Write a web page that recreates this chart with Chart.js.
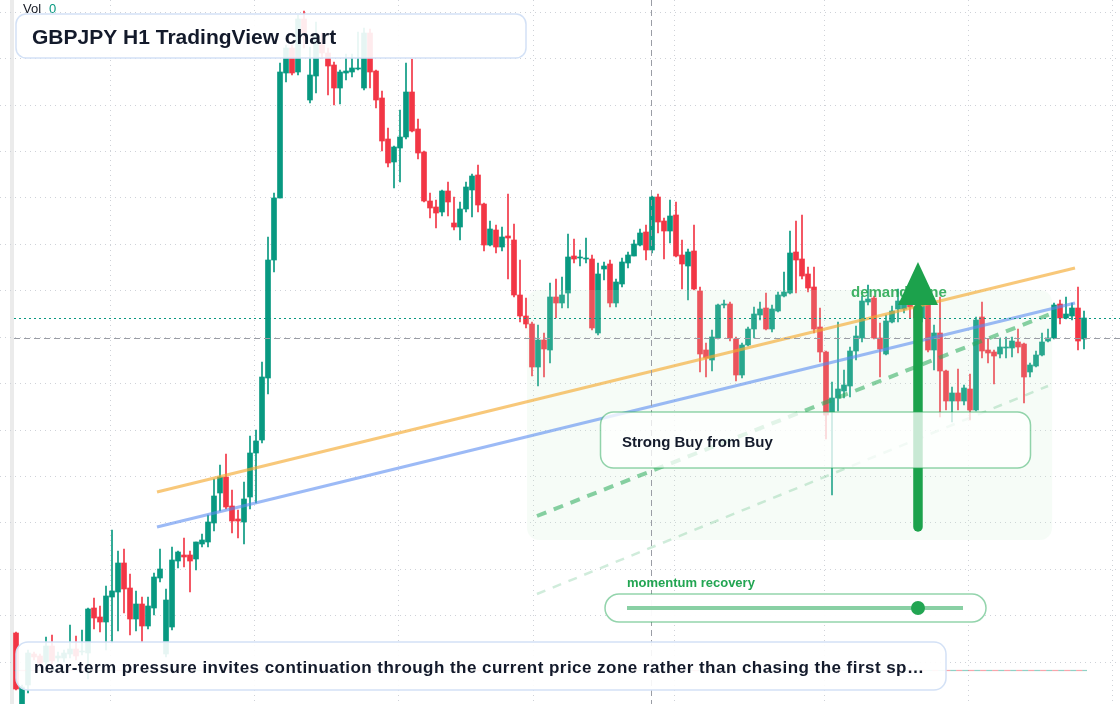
<!DOCTYPE html>
<html><head><meta charset="utf-8">
<script src="https://cdn.jsdelivr.net/npm/chart.js@4.4.1/dist/chart.umd.min.js"></script>
<style>html,body{margin:0;padding:0;background:#fff;overflow:hidden}canvas{display:block}</style>
</head><body>
<canvas id="c" width="1120" height="704"></canvas>
<script>
// ---- GBPJPY H1 candles (price values) ----
const openP = [197.67,196.88,197.15,197.46,197.44,197.38,197.54,197.42,197.42,197.46,
197.51,197.48,197.47,197.92,197.83,197.78,198.03,198.08,198.37,198.12,
197.81,197.96,197.74,197.92,198.22,197.46,197.73,198.39,198.45,198.45,
198.41,198.56,198.58,198.77,199.07,199.23,198.94,198.81,198.78,199.03,
199.47,199.60,200.22,201.40,202.02,203.27,203.52,203.28,203.81,203.00,
203.24,203.55,203.47,203.35,203.12,203.27,203.28,203.31,203.12,203.67,
203.29,203.02,202.61,202.38,202.52,202.63,203.08,202.71,202.48,201.99,
201.93,201.88,202.09,201.77,201.73,201.91,202.10,202.25,201.96,201.55,
201.70,201.53,201.64,201.60,201.05,200.84,200.76,200.33,200.60,200.50,
201.03,200.97,201.07,201.44,201.42,201.41,201.41,200.67,201.31,201.36,
200.97,201.16,201.37,201.44,201.55,201.68,201.50,202.03,201.79,201.69,
201.85,201.45,201.34,201.49,201.09,200.50,200.40,200.62,200.95,200.96,
200.61,200.25,200.55,200.71,200.85,200.92,200.71,200.89,201.04,201.07,
201.48,201.41,201.26,201.13,200.73,200.48,199.88,200.02,200.09,200.14,
200.49,200.62,200.98,201.02,200.62,200.46,200.78,200.91,200.91,200.96,
200.93,200.82,200.95,200.50,200.67,200.29,199.99,200.07,199.99,200.11,
199.90,200.83,200.50,200.48,200.46,200.52,200.52,200.58,200.56,200.28,
200.34,200.45,200.59,200.62,200.96,200.82,200.84,200.92,200.61];
const highP = [197.68,197.15,197.50,197.48,197.46,197.63,197.65,197.48,197.50,197.75,
197.64,197.70,197.92,198.02,197.94,198.14,198.70,198.49,198.51,198.26,
198.09,198.03,198.03,198.27,198.51,198.11,198.53,198.49,198.62,198.49,
198.58,198.66,198.85,199.21,199.35,199.46,199.10,198.90,199.18,199.64,
199.70,200.38,201.63,202.07,203.37,203.55,203.55,203.85,203.89,203.53,
203.78,203.67,203.52,203.38,203.30,203.46,203.46,203.68,203.72,203.71,
203.30,203.09,202.72,202.54,202.90,203.37,203.41,202.81,202.49,202.07,
202.00,202.10,202.18,202.03,201.98,202.18,202.26,202.35,201.97,201.79,
201.75,201.73,202.06,201.76,201.40,201.02,200.78,200.75,200.67,201.17,
201.21,201.23,201.66,201.61,201.50,201.62,201.45,201.37,201.38,201.40,
201.21,201.42,201.48,201.60,201.71,201.75,202.04,202.06,201.82,202.00,
201.98,201.60,201.51,201.75,201.13,200.57,200.70,200.96,201.00,200.98,
200.63,200.57,200.73,200.93,200.98,201.07,200.95,201.08,201.28,201.69,
201.79,201.85,201.33,201.33,200.92,200.49,200.18,200.78,200.30,200.53,
200.74,201.04,201.15,201.04,200.77,200.85,200.94,201.11,201.02,201.04,
201.00,201.00,200.97,200.75,201.03,200.30,200.13,200.31,200.15,200.26,
200.83,200.98,200.61,200.50,200.62,200.63,200.63,200.71,200.57,200.37,
200.49,200.67,200.71,200.97,201.00,201.03,200.97,201.13,200.89];
const lowP = [197.10,196.84,197.07,197.40,197.34,197.35,197.36,197.38,197.38,197.42,
197.40,197.45,197.21,197.71,197.68,197.50,197.57,197.69,197.87,197.65,
197.69,197.58,197.71,197.85,198.18,197.43,197.70,198.32,198.33,198.08,
198.30,198.53,198.53,198.69,198.89,198.91,198.67,198.62,198.56,198.91,
198.97,199.57,200.06,201.28,202.02,203.18,203.25,203.25,203.52,202.97,
203.07,203.42,203.05,202.95,202.96,203.20,203.23,203.30,203.10,203.12,
202.92,202.49,202.33,202.12,202.18,202.61,202.68,202.41,201.98,201.82,
201.72,201.84,201.84,201.70,201.60,201.88,201.83,201.88,201.49,201.54,
201.47,201.49,201.21,201.03,200.78,200.72,200.24,200.14,200.23,200.37,
200.82,200.92,200.92,201.37,201.34,201.37,200.70,200.65,201.20,200.93,
200.93,201.13,201.32,201.44,201.54,201.40,201.47,201.67,201.41,201.57,
201.43,201.11,201.00,201.10,200.28,200.23,200.29,200.61,200.92,200.59,
200.19,200.22,200.54,200.62,200.80,200.70,200.68,200.88,201.03,201.06,
201.07,201.21,201.08,200.67,200.38,199.61,199.05,199.89,200.02,200.03,
200.40,200.58,200.95,200.61,200.23,200.45,200.77,200.78,200.87,200.82,
200.75,200.78,200.48,200.30,199.83,199.90,199.78,199.90,199.95,199.80,
199.89,200.42,200.37,200.16,200.42,200.42,200.43,200.47,199.97,200.23,
200.33,200.44,200.58,200.61,200.76,200.81,200.80,200.50,200.51];
const closeP = [197.11,197.13,197.47,197.43,197.37,197.54,197.39,197.44,197.47,197.51,
197.44,197.49,197.91,197.82,197.78,198.04,198.09,198.37,198.11,197.81,
197.96,197.74,197.94,198.23,198.31,198.00,198.40,198.48,198.43,198.39,
198.58,198.60,198.78,199.04,199.23,198.93,198.79,198.79,199.01,199.47,
199.59,200.23,201.40,202.02,203.28,203.52,203.27,203.81,203.67,203.25,
203.65,203.47,203.34,203.12,203.28,203.29,203.32,203.32,203.67,203.28,
203.00,202.59,202.37,202.53,202.63,203.08,202.69,202.47,201.99,201.92,
201.87,202.09,201.98,201.73,201.91,202.13,202.24,201.95,201.55,201.71,
201.53,201.63,201.62,201.05,200.84,200.76,200.33,200.60,200.51,201.03,
200.97,201.05,201.43,201.41,201.43,201.42,200.72,201.26,201.34,200.97,
201.18,201.38,201.45,201.56,201.67,201.50,202.03,201.78,201.69,201.84,
201.44,201.36,201.48,201.11,200.46,200.42,200.63,200.95,200.96,200.62,
200.25,200.55,200.71,200.86,200.91,200.71,200.91,201.05,201.08,201.47,
201.40,201.24,201.12,200.71,200.48,199.85,200.02,200.11,200.15,200.49,
200.64,200.99,201.01,200.62,200.51,200.79,200.89,200.99,200.96,200.93,
200.82,200.95,200.50,200.67,200.29,199.99,200.07,199.99,200.12,199.90,
200.80,200.49,200.47,200.44,200.53,200.53,200.59,200.53,200.23,200.35,
200.45,200.58,200.62,200.95,200.82,200.86,200.92,200.59,200.82];

// grid levels (price) and time grid (bar index)
const priceGrid = [203.876,203.412,202.948,202.484,202.020,201.556,201.092,200.628,200.164,199.700,199.236,198.772,198.308,197.844,197.380];
const timeGrid = [3.83,27.83,51.83,75.83,96.83,122.83,146.83,170.83];

// drawings, in (bar index, price)
const orangeTrend = [[23.5,199.08],[176.5,201.32]];
const blueTrend = [[23.5,198.73],[176.5,200.97]];
const greenDash = [[86.83,198.84],[172.8,200.87]];
const greenDashLight = [[86.83,198.06],[172.0,200.14]];
const demandZone = [85.17,172.67,201.10,198.60]; // x0, x1, top, bottom
const crosshair = [105.83,200.62];               // bar index, price
const arrowPts = [150.33,201.38,200.95,198.69];  // bar index, tip, head base, tail
const volLine = [-0.3,178.5,197.30];

const UP = '#089981', DOWN = '#f23645';
const idx = openP.map((_, i) => i);
const upAt = i => closeP[i] >= openP[i];

function rr(ctx, x, y, w, h, r) {
  ctx.beginPath();
  ctx.moveTo(x + r, y);
  ctx.arcTo(x + w, y, x + w, y + h, r);
  ctx.arcTo(x + w, y + h, x, y + h, r);
  ctx.arcTo(x, y + h, x, y, r);
  ctx.arcTo(x, y, x + w, y, r);
  ctx.closePath();
}
const FONT = '"Liberation Sans", Arial, sans-serif';

const overlay = {
  id: 'overlay',
  beforeDraw(chart) {
    const ctx = chart.ctx;
    ctx.save();
    ctx.fillStyle = '#ffffff';
    ctx.fillRect(0, 0, chart.width, chart.height);
    ctx.fillStyle = '#ebebeb';
    ctx.fillRect(10, 0, 4, chart.height);
    ctx.restore();
  },
  afterDatasetsDraw(chart) {
    const ctx = chart.ctx, xs = chart.scales.x, ys = chart.scales.y;
    const X = v => xs.getPixelForValue(v), Y = v => ys.getPixelForValue(v);
    const W = chart.width, H = chart.height;
    ctx.save();

    // demand zone shading
    const zx0 = X(demandZone[0]), zx1 = X(demandZone[1]), zy0 = Y(demandZone[2]), zy1 = Y(demandZone[3]);
    rr(ctx, zx0, zy0, zx1 - zx0, zy1 - zy0, 12);
    ctx.fillStyle = 'rgba(200,238,210,0.17)';
    ctx.fill();

    const seg = (pts, color, width, dash) => {
      ctx.beginPath();
      ctx.setLineDash(dash || []);
      ctx.strokeStyle = color; ctx.lineWidth = width; ctx.lineCap = 'butt';
      ctx.moveTo(X(pts[0][0]), Y(pts[0][1]));
      ctx.lineTo(X(pts[1][0]), Y(pts[1][1]));
      ctx.stroke();
    };
    seg(greenDashLight, 'rgba(40,170,90,0.22)', 2.5, [9, 8]);
    seg(greenDash, 'rgba(40,170,90,0.55)', 4, [10, 8]);
    seg(orangeTrend, 'rgba(245,170,50,0.65)', 3);
    seg(blueTrend, 'rgba(90,140,240,0.6)', 3);

    // last price line (teal dotted)
    const lastY = Y(closeP[closeP.length - 1]);
    ctx.setLineDash([2, 3]); ctx.lineWidth = 1; ctx.strokeStyle = UP;
    ctx.beginPath(); ctx.moveTo(14, Math.round(lastY) + 0.5); ctx.lineTo(W, Math.round(lastY) + 0.5); ctx.stroke();

    // crosshair
    ctx.setLineDash([6, 4]); ctx.strokeStyle = '#9a9da5'; ctx.lineWidth = 1;
    const cy = Math.round(Y(crosshair[1])) + 0.5, cx = Math.round(X(crosshair[0])) + 0.5;
    ctx.beginPath(); ctx.moveTo(14, cy); ctx.lineTo(W, cy); ctx.stroke();
    ctx.beginPath(); ctx.moveTo(cx, 0); ctx.lineTo(cx, H); ctx.stroke();

    // volume-ish dashed line at bottom
    const vy = Math.round(Y(volLine[2])) + 0.5;
    ctx.lineWidth = 1.2;
    ctx.setLineDash([6, 6]); ctx.strokeStyle = 'rgba(8,153,129,0.45)';
    ctx.beginPath(); ctx.moveTo(X(volLine[0]), vy); ctx.lineTo(X(volLine[1]), vy); ctx.stroke();
    ctx.lineDashOffset = 6; ctx.strokeStyle = 'rgba(242,54,69,0.45)';
    ctx.beginPath(); ctx.moveTo(X(volLine[0]), vy); ctx.lineTo(X(volLine[1]), vy); ctx.stroke();
    ctx.lineDashOffset = 0;
    ctx.setLineDash([]);

    // demand zone label
    ctx.fillStyle = 'rgba(30,165,75,0.85)';
    ctx.font = 'bold 15px ' + FONT;
    ctx.textBaseline = 'alphabetic';
    ctx.fillText('demand zone', 851, 297);

    // arrow
    const ax = X(arrowPts[0]), tipY = Y(arrowPts[1]), baseY = Y(arrowPts[2]), tailY = Y(arrowPts[3]);
    ctx.strokeStyle = '#1ca24c'; ctx.lineWidth = 9.5; ctx.lineCap = 'round';
    ctx.beginPath(); ctx.moveTo(ax, tailY - 4); ctx.lineTo(ax, baseY + 4); ctx.stroke();
    ctx.fillStyle = '#1ca24c';
    ctx.beginPath(); ctx.moveTo(ax, tipY); ctx.lineTo(ax + 20, baseY); ctx.lineTo(ax - 20, baseY); ctx.closePath(); ctx.fill();
    ctx.lineCap = 'butt';

    // Strong Buy box
    rr(ctx, 600.5, 412, 430, 56, 13);
    ctx.fillStyle = 'rgba(255,255,255,0.76)'; ctx.fill();
    ctx.strokeStyle = 'rgba(40,170,90,0.5)'; ctx.lineWidth = 1.5; ctx.stroke();
    ctx.fillStyle = '#141b2b';
    ctx.font = 'bold 15px ' + FONT;
    ctx.fillText('Strong Buy from Buy', 622, 447);

    // momentum slider
    ctx.fillStyle = '#22a552';
    ctx.font = 'bold 13px ' + FONT;
    ctx.fillText('momentum recovery', 627, 587);
    rr(ctx, 605, 594, 381, 28, 14);
    ctx.fillStyle = 'rgba(255,255,255,0.95)'; ctx.fill();
    ctx.strokeStyle = 'rgba(40,170,90,0.5)'; ctx.lineWidth = 1.5; ctx.stroke();
    ctx.strokeStyle = 'rgba(40,170,90,0.55)'; ctx.lineWidth = 4;
    ctx.beginPath(); ctx.moveTo(627, 608); ctx.lineTo(963, 608); ctx.stroke();
    ctx.fillStyle = '#22a552';
    ctx.beginPath(); ctx.arc(918, 608, 7, 0, Math.PI * 2); ctx.fill();

    // title box
    rr(ctx, 16, 14, 510, 44, 10);
    ctx.fillStyle = 'rgba(255,255,255,0.9)'; ctx.fill();
    ctx.strokeStyle = '#d3e1f6'; ctx.lineWidth = 1.5; ctx.stroke();
    ctx.fillStyle = '#131a2b';
    ctx.font = 'bold 21px ' + FONT;
    ctx.fillText('GBPJPY H1 TradingView chart', 32, 44);

    // bottom note box
    rr(ctx, 16, 642, 930, 48, 12);
    ctx.fillStyle = 'rgba(255,255,255,0.9)'; ctx.fill();
    ctx.strokeStyle = '#d3e1f6'; ctx.lineWidth = 1.5; ctx.stroke();
    ctx.fillStyle = '#131a2b';
    ctx.font = 'bold 17px ' + FONT;
    try { ctx.letterSpacing = '0.46px'; } catch (e) {}
    ctx.fillText('near-term pressure invites continuation through the current price zone rather than chasing the first sp\u2026', 34, 673);
    try { ctx.letterSpacing = '0px'; } catch (e) {}

    // Vol legend
    ctx.font = '13px ' + FONT;
    ctx.fillStyle = '#131722';
    ctx.fillText('Vol', 23, 13);
    ctx.fillStyle = UP;
    ctx.fillText('0', 49, 13);

    ctx.restore();
  }
};

const gridCommon = { color: '#cfd2d8', lineWidth: 1, drawTicks: false };
new Chart(document.getElementById('c'), {
  type: 'bar',
  data: {
    datasets: [
      {
        label: 'body',
        data: idx.map(i => ({ x: i, y: [openP[i], closeP[i]] })),
        backgroundColor: c => upAt(c.dataIndex) ? UP : DOWN,
        barThickness: 5, minBarLength: 1, grouped: false, order: 1
      },
      {
        label: 'wick',
        data: idx.map(i => ({ x: i, y: [lowP[i], highP[i]] })),
        backgroundColor: c => upAt(c.dataIndex) ? UP : DOWN,
        barThickness: 1, grouped: false, order: 2
      }
    ]
  },
  options: {
    responsive: false, animation: false, devicePixelRatio: 1,
    layout: { padding: 0 },
    plugins: { legend: { display: false }, tooltip: { enabled: false } },
    scales: {
      x: {
        type: 'linear', min: -2.6667, max: 184, offset: false,
        ticks: { display: false }, grid: gridCommon,
        border: { display: false, dash: [1, 4] },
        afterBuildTicks: a => { a.ticks = timeGrid.map(v => ({ value: v })); }
      },
      y: {
        type: 'linear', min: 196.96, max: 204.00,
        ticks: { display: false }, grid: gridCommon,
        border: { display: false, dash: [1, 4] },
        afterBuildTicks: a => { a.ticks = priceGrid.map(v => ({ value: v })); }
      }
    }
  },
  plugins: [overlay]
});
</script>
</body></html>
